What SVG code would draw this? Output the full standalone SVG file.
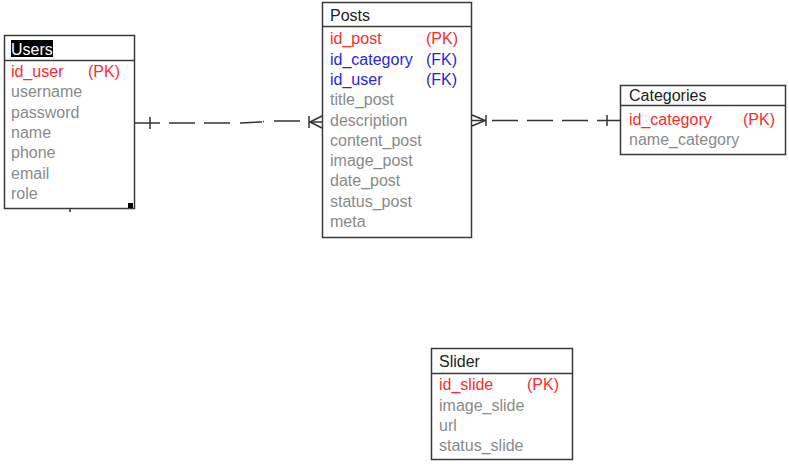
<svg xmlns="http://www.w3.org/2000/svg" width="789" height="464" viewBox="0 0 789 464">
<style>
text{font-family:"Liberation Sans",Arial,sans-serif;font-size:16px}
.box{fill:#fff;stroke:#3a3a3a;stroke-width:1.5}
.sep{stroke:#3a3a3a;stroke-width:1.5}
.h{fill:#222}
.pk{fill:#ff2a2a}
.fk{fill:#2626e6}
.a{fill:#8a8a8a}
.ln{stroke:#333;stroke-width:1.5;fill:none}
.dash{stroke-dasharray:26 9}
</style>
<rect width="789" height="464" fill="#fff"/>
<g id="users">
<rect class="box" x="4.5" y="35.5" width="130" height="173"/>
<line class="sep" x1="4.5" y1="60.5" x2="134.5" y2="60.5"/>
<rect x="11" y="40" width="42" height="17" fill="#000"/>
<text x="11" y="55" fill="#fff">Users</text>
<text class="pk" x="11" y="77">id_user</text><text class="pk" x="88" y="77">(PK)</text>
<text class="a" x="11" y="97.3">username</text>
<text class="a" x="11" y="117.6">password</text>
<text class="a" x="11" y="138">name</text>
<text class="a" x="11" y="158.3">phone</text>
<text class="a" x="11" y="178.6">email</text>
<text class="a" x="11" y="199">role</text>
<rect x="128" y="203" width="5" height="5" fill="#000"/>
<line class="ln" x1="70" y1="209" x2="70" y2="212"/>
</g>
<g id="posts">
<rect class="box" x="322.5" y="2.5" width="149" height="235"/>
<line class="sep" x1="322.5" y1="26.5" x2="471.5" y2="26.5"/>
<text class="h" x="330" y="20.7">Posts</text>
<text class="pk" x="330" y="44.3">id_post</text><text class="pk" x="426" y="44.3">(PK)</text>
<text class="fk" x="330" y="64.6">id_category</text><text class="fk" x="426" y="64.6">(FK)</text>
<text class="fk" x="330" y="84.9">id_user</text><text class="fk" x="426" y="84.9">(FK)</text>
<text class="a" x="330" y="105.2">title_post</text>
<text class="a" x="330" y="125.5">description</text>
<text class="a" x="330" y="145.8">content_post</text>
<text class="a" x="330" y="166.1">image_post</text>
<text class="a" x="330" y="186.4">date_post</text>
<text class="a" x="330" y="206.7">status_post</text>
<text class="a" x="330" y="227">meta</text>
</g>
<g id="categories">
<rect class="box" x="620.5" y="85.5" width="165" height="69"/>
<line class="sep" x1="620.5" y1="105.5" x2="785.5" y2="105.5"/>
<text class="h" x="629" y="100.7">Categories</text>
<text class="pk" x="629" y="125">id_category</text><text class="pk" x="743" y="125">(PK)</text>
<text class="a" x="629" y="145.3">name_category</text>
</g>
<g id="slider">
<rect class="box" x="431.5" y="348.5" width="141" height="111"/>
<line class="sep" x1="431.5" y1="373.5" x2="572.5" y2="373.5"/>
<text class="h" x="439" y="366.7">Slider</text>
<text class="pk" x="439" y="390">id_slide</text><text class="pk" x="527" y="390">(PK)</text>
<text class="a" x="439" y="410.7">image_slide</text>
<text class="a" x="439" y="431">url</text>
<text class="a" x="439" y="451">status_slide</text>
</g>
<g id="connectors">
<line class="ln" x1="135" y1="123" x2="160" y2="123"/>
<line class="ln" x1="150" y1="117" x2="150" y2="129"/>
<line class="ln" x1="169" y1="123" x2="195" y2="123"/>
<line class="ln" x1="204" y1="123" x2="230" y2="123"/>
<line class="ln" x1="240" y1="123" x2="262" y2="122"/>
<line class="ln" x1="263" y1="121.5" x2="264" y2="121.5"/>
<line class="ln" x1="274" y1="121" x2="300" y2="121"/>
<line class="ln" x1="309" y1="116" x2="309" y2="128"/>
<line class="ln" x1="309" y1="122" x2="322" y2="122"/>
<line class="ln" x1="310" y1="122" x2="322" y2="116"/>
<line class="ln" x1="310" y1="122" x2="322" y2="128"/>
<line class="ln" x1="472" y1="115" x2="485" y2="120.5"/>
<line class="ln" x1="472" y1="126" x2="485" y2="120.5"/>
<line class="ln" x1="472" y1="120.5" x2="486" y2="120.5"/>
<line class="ln" x1="486" y1="115" x2="486" y2="126"/>
<line class="ln" x1="492" y1="120.5" x2="518" y2="120.5"/>
<line class="ln" x1="527" y1="120.5" x2="553" y2="120.5"/>
<line class="ln" x1="562" y1="120.5" x2="588" y2="120.5"/>
<line class="ln" x1="597" y1="120.5" x2="620" y2="120.5"/>
<line class="ln" x1="607" y1="115" x2="607" y2="126"/>
</g>
</svg>
